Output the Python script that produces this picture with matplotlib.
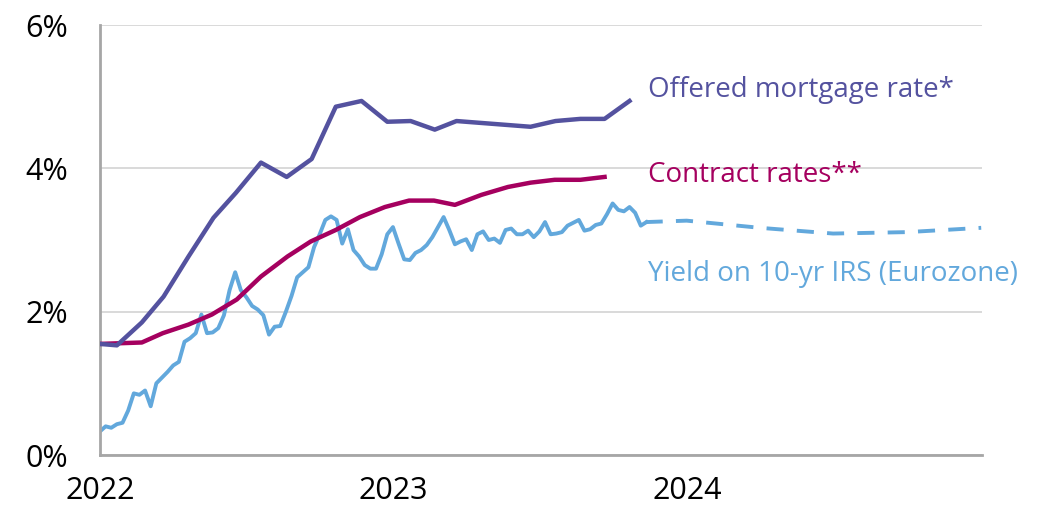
import matplotlib
matplotlib.use("Agg")
import matplotlib.pyplot as plt
import matplotlib.dates as mdates
import pandas as pd

# offered mortgage rate (monthly)
mortgage_dates = ['2022-01-01', '2022-01-22', '2022-02-22', '2022-03-21', '2022-04-21',
                  '2022-05-22', '2022-06-19', '2022-07-20', '2022-08-21', '2022-09-21',
                  '2022-10-21', '2022-11-22', '2022-12-24', '2023-01-22', '2023-02-21',
                  '2023-03-20', '2023-06-20', '2023-07-21', '2023-08-21', '2023-09-20',
                  '2023-10-21']
mortgage_rate = [1.55, 1.53, 1.85, 2.21, 2.77, 3.31, 3.66, 4.08, 3.88, 4.13,
                 4.86, 4.94, 4.65, 4.66, 4.54, 4.66, 4.58, 4.66, 4.69, 4.69, 4.94]

# contract rates (monthly)
contract_dates = ['2022-01-01', '2022-02-22', '2022-03-20', '2022-04-21', '2022-05-20',
                  '2022-06-20', '2022-07-20', '2022-08-22', '2022-09-20', '2022-10-21',
                  '2022-11-20', '2022-12-21', '2023-01-20', '2023-02-20', '2023-03-18',
                  '2023-04-20', '2023-05-23', '2023-06-20', '2023-07-20', '2023-08-21',
                  '2023-09-20']
contract_rate = [1.55, 1.57, 1.70, 1.82, 1.96, 2.17, 2.49, 2.77, 2.98, 3.14,
                 3.32, 3.46, 3.55, 3.55, 3.49, 3.63, 3.74, 3.80, 3.84, 3.84, 3.88]

# 10-yr IRS, weekly readings from 2022-01-01
irs_start = '2022-01-01'
irs_rate = [0.33, 0.40, 0.38, 0.43, 0.45, 0.62, 0.86, 0.84, 0.90, 0.68,
            1.00, 1.08, 1.16, 1.25, 1.30, 1.58, 1.63, 1.70, 1.96, 1.70,
            1.71, 1.77, 1.95, 2.30, 2.55, 2.30, 2.20, 2.08, 2.03, 1.95,
            1.68, 1.79, 1.80, 2.00, 2.22, 2.48, 2.55, 2.62, 2.90, 3.08,
            3.28, 3.33, 3.28, 2.95, 3.15, 2.86, 2.77, 2.65, 2.60, 2.60,
            2.80, 3.08, 3.18, 2.95, 2.73, 2.72, 2.82, 2.86, 2.93, 3.04,
            3.18, 3.32, 3.14, 2.94, 2.98, 3.01, 2.86, 3.08, 3.12, 3.00,
            3.02, 2.96, 3.14, 3.16, 3.08, 3.08, 3.13, 3.04, 3.12, 3.25,
            3.08, 3.09, 3.11, 3.20, 3.24, 3.28, 3.13, 3.15, 3.21, 3.23,
            3.36, 3.51, 3.42, 3.40, 3.46, 3.38, 3.20, 3.25]

# IRS forecast
forecast_dates = ['2023-11-10', '2023-12-31', '2024-03-31', '2024-06-30', '2024-09-30', '2024-12-31']
forecast_rate = [3.25, 3.27, 3.17, 3.09, 3.11, 3.17]

C_MORT = '#54529F'
C_CONT = '#A5005F'
C_IRS = '#62A8DC'

plt.rcParams['font.family'] = ['Open Sans', 'DejaVu Sans']

fig = plt.figure(figsize=(10.58, 5.11), dpi=100)
ax = fig.add_axes([100 / 1058, 56 / 511, 882 / 1058, 430 / 511])

irs_dates = pd.date_range(irs_start, periods=len(irs_rate), freq='7D')
ax.plot(irs_dates, irs_rate, color=C_IRS, lw=2.8, solid_joinstyle='round', zorder=2)
ax.plot(pd.to_datetime(forecast_dates), forecast_rate, color=C_IRS, lw=2.8,
        dashes=(4.4, 3.4), zorder=2)
ax.plot(pd.to_datetime(contract_dates), contract_rate, color=C_CONT, lw=3.2, zorder=3)
ax.plot(pd.to_datetime(mortgage_dates), mortgage_rate, color=C_MORT, lw=3.2, zorder=4)

ax.set_xlim(pd.Timestamp('2022-01-01'), pd.Timestamp('2025-01-01'))
ax.set_ylim(0, 6)
ax.set_yticks([0, 2, 4, 6])
ax.set_yticklabels(['0%', '2%', '4%', '6%'])
ax.set_xticks(pd.to_datetime(['2022-01-01', '2023-01-01', '2024-01-01']))
ax.xaxis.set_major_formatter(mdates.DateFormatter('%Y'))
ax.tick_params(axis='both', length=0, labelsize=22, colors='#000000')
ax.tick_params(axis='y', pad=23)
ax.tick_params(axis='x', pad=15)

ax.grid(axis='y', color='#d9d9d9', lw=1.4)
ax.set_axisbelow(True)
for s in ['top', 'right']:
    ax.spines[s].set_visible(False)
for s in ['left', 'bottom']:
    ax.spines[s].set_color('#a6a6a6')
    ax.spines[s].set_linewidth(2)

tx = pd.Timestamp('2023-11-13')
ax.text(tx, 5.09, 'Offered mortgage rate*', color=C_MORT, fontsize=20, va='center', ha='left')
ax.text(tx, 3.91, 'Contract rates**', color=C_CONT, fontsize=20, va='center', ha='left')
ax.text(tx, 2.52, 'Yield on 10-yr IRS (Eurozone)', color=C_IRS, fontsize=20, va='center', ha='left')

fig.savefig('out.png', dpi=100)
